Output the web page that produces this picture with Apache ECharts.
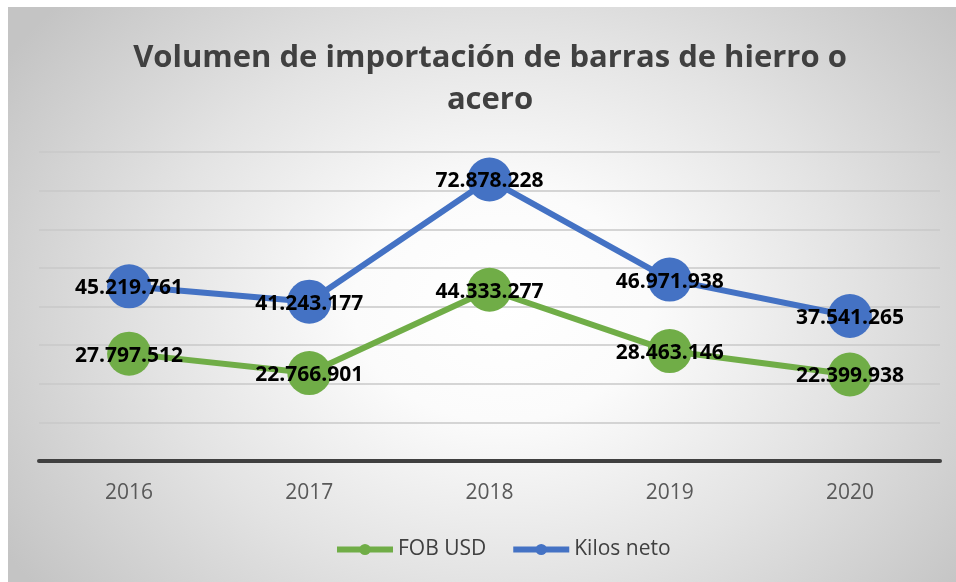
<!DOCTYPE html>
<html>
<head>
<meta charset="utf-8">
<script src="https://cdn.jsdelivr.net/npm/echarts@6/dist/echarts.min.js"></script>
<style>
html,body{margin:0;padding:0;background:#fff;}
#bg{position:absolute;left:8px;top:7px;width:948px;height:575px;
background:radial-gradient(ellipse 62% 80% at 52% 52%, #ffffff 0%, #fbfbfb 25%, #e3e3e3 60%, #c4c4c4 100%);}
#chart{position:absolute;left:0;top:0;width:956px;height:582px;}
</style>
</head>
<body>
<div id="bg"></div>
<div id="chart"></div>
<script>
const titleText = "Volumen de importación de barras de hierro o\nacero";
const categories = ["2016", "2017", "2018", "2019", "2020"];
const seriesNames = ["FOB USD", "Kilos neto"];
const fobUsd = [27797512, 22766901, 44333277, 28463146, 22399938];
const kilosNeto = [45219761, 41243177, 72878228, 46971938, 37541265];
const yMin = 0, yMax = 80000000, yInterval = 10000000;

function fmt(v){ return String(v).replace(/\B(?=(\d{3})+(?!\d))/g, "."); }

const chart = echarts.init(document.getElementById('chart'), null, {renderer:'canvas'});
const FONT = "'Open Sans', 'Noto Sans', sans-serif";
function lineSeries(name, data, color){
  return {
    name, type:'line', data,
    symbol:'circle', symbolSize:44,
    lineStyle:{color, width:6},
    itemStyle:{color},
    label:{show:true, position:'inside', offset:[0,2], formatter:p=>fmt(p.value),
      fontFamily:FONT, fontWeight:'bold', fontSize:21, color:'#000'},
    emphasis:{disabled:true},
    animation:false
  };
}
chart.setOption({
  backgroundColor:'transparent',
  title:{text:titleText, left:485, textAlign:'center', top:32,
    textStyle:{fontFamily:FONT, fontWeight:'bold', fontSize:31, lineHeight:42, color:'#404040'}},
  legend:{data:seriesNames, left:329, top:534, itemWidth:56, itemHeight:14, itemGap:24, itemTextGap:5,
    lineStyle:{width:6},
    textStyle:{fontFamily:FONT, fontSize:21, color:'#404040'}},
  grid:{left:39, right:16, top:152, bottom:121},
  xAxis:{type:'category', data:categories, boundaryGap:true,
    axisLine:{show:true, lineStyle:{color:'#404040', width:4}},
    axisTick:{show:false},
    axisLabel:{margin:22, fontFamily:FONT, fontSize:21, color:'#595959'},
    z:5},
  yAxis:{type:'value', min:yMin, max:yMax, interval:yInterval,
    axisLine:{show:false}, axisTick:{show:false}, axisLabel:{show:false},
    splitLine:{lineStyle:{color:'#c8c8c8', width:1.5}}},
  series:[lineSeries(seriesNames[0], fobUsd, '#70AD47'), lineSeries(seriesNames[1], kilosNeto, '#4472C4')]
});
</script>
</body>
</html>
